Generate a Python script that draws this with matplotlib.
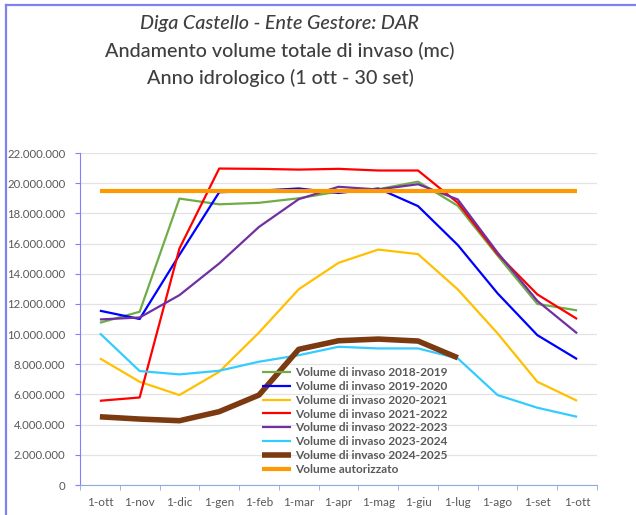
import matplotlib
matplotlib.use("Agg")
import matplotlib.pyplot as plt
from matplotlib.lines import Line2D
from matplotlib.ticker import FuncFormatter, FixedLocator

plt.rcParams['font.family'] = ['Lato', 'DejaVu Sans']

mesi = ['1-ott', '1-nov', '1-dic', '1-gen', '1-feb', '1-mar', '1-apr',
        '1-mag', '1-giu', '1-lug', '1-ago', '1-set', '1-ott']

# volumi in metri cubi
v_2018_2019 = [10750000, 11480000, 18980000, 18600000, 18700000, 19000000, 19450000,
               19600000, 20100000, 18500000, 15200000, 12000000, 11570000]
v_2019_2020 = [11550000, 11000000, 15250000, 19400000, 19500000, 19650000, 19350000,
               19650000, 18480000, 15900000, 12700000, 9930000, 8340000]
v_2020_2021 = [8390000, 6840000, 5960000, 7500000, 10100000, 12970000, 14720000,
               15600000, 15300000, 12960000, 10050000, 6840000, 5580000]
v_2021_2022 = [5580000, 5800000, 15670000, 20970000, 20950000, 20900000, 20950000,
               20840000, 20840000, 18700000, 15300000, 12630000, 11000000]
v_2022_2023 = [10970000, 11100000, 12580000, 14680000, 17100000, 18940000, 19760000,
               19580000, 19930000, 18920000, 15400000, 12200000, 10050000]
v_2023_2024 = [10050000, 7550000, 7330000, 7570000, 8170000, 8600000, 9160000,
               9050000, 9050000, 8390000, 5960000, 5120000, 4520000]
v_2024_2025 = [4520000, 4370000, 4260000, 4860000, 5960000, 8990000, 9560000,
               9670000, 9540000, 8430000]
volume_autorizzato = [19500000] * 13

serie = [
    ('Volume di invaso 2018-2019', v_2018_2019, '#70AD47', 1.6),
    ('Volume di invaso 2019-2020', v_2019_2020, '#0000FF', 1.6),
    ('Volume di invaso 2020-2021', v_2020_2021, '#FFC000', 1.6),
    ('Volume di invaso 2021-2022', v_2021_2022, '#FF0000', 1.6),
    ('Volume di invaso 2022-2023', v_2022_2023, '#7030A0', 1.6),
    ('Volume di invaso 2023-2024', v_2023_2024, '#33CCFF', 1.6),
    ('Volume di invaso 2024-2025', v_2024_2025, '#7B3A10', 4.0),
    ('Volume autorizzato', volume_autorizzato, '#FF9900', 3.0),
]

fig = plt.figure(figsize=(6.36, 5.15), dpi=100)
ax = fig.add_axes([80 / 636, 30 / 515, 517 / 636, 332 / 515])

for nome, valori, colore, lw in serie:
    ax.plot(range(len(valori)), valori, color=colore, lw=lw, label=nome,
            solid_capstyle='butt', solid_joinstyle='round')

ax.set_xlim(-0.5, 12.5)
ax.set_ylim(0, 22000000)
ax.set_yticks(range(0, 22000001, 2000000))
ax.yaxis.set_major_formatter(FuncFormatter(lambda v, p: f"{v:,.0f}".replace(",", ".")))
ax.grid(axis='y', color='#E3E3E3', lw=0.9)
ax.set_axisbelow(True)

ax.set_xticks(range(13))
ax.set_xticklabels(mesi)
ax.xaxis.set_minor_locator(FixedLocator([i - 0.5 for i in range(14)]))
ax.tick_params(axis='x', which='major', length=0, pad=9, labelsize=8.5, labelcolor='#595959')
ax.tick_params(axis='x', which='minor', length=3.5, color='#8FAADC', direction='out')
ax.tick_params(axis='y', length=3.5, color='#8080FF', pad=7, labelsize=8.2, labelcolor='#595959')

for s in ['top', 'right']:
    ax.spines[s].set_visible(False)
ax.spines['left'].set_color('#8080FF')
ax.spines['bottom'].set_color('#8FAADC')

leg = ax.legend(loc='upper left', bbox_to_anchor=(262 / 636, 1 - 367 / 515),
                bbox_transform=fig.transFigure, frameon=False, borderpad=0,
                borderaxespad=0, handlelength=2.4, handletextpad=0.4,
                labelspacing=0.24, prop={'size': 8.6, 'weight': 'bold'})
for t in leg.get_texts():
    t.set_color('#595959')

titolo = dict(ha='center', va='center', fontsize=14.2, color='#3F3F3F', weight='medium')
fig.text(280 / 636, 1 - 23 / 515, 'Diga Castello - Ente Gestore: DAR', style='italic', **titolo)
fig.text(280 / 636, 1 - 51 / 515, 'Andamento volume totale di invaso (mc)', **titolo)
fig.text(280 / 636, 1 - 78 / 515, 'Anno idrologico (1 ott - 30 set)', **titolo)

# cornice del grafico
fig.add_artist(Line2D([5.5 / 636, 5.5 / 636], [0, 1 - 4.5 / 515], color='#8080EE', lw=1.6))
fig.add_artist(Line2D([5.5 / 636, 1], [1 - 4.5 / 515, 1 - 4.5 / 515], color='#8080EE', lw=1.6))

fig.savefig('out.png', dpi=100)
